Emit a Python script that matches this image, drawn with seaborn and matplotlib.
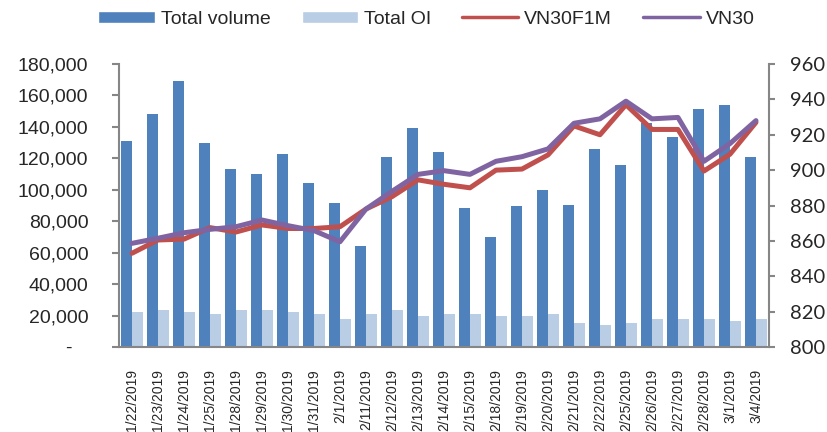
import matplotlib
matplotlib.use("Agg")
import matplotlib.pyplot as plt
from matplotlib.ticker import FuncFormatter, MultipleLocator, FixedLocator
from matplotlib.patches import Patch
from matplotlib.lines import Line2D
import numpy as np
import pandas as pd
import seaborn as sns

dates = ["1/22/2019", "1/23/2019", "1/24/2019", "1/25/2019", "1/28/2019",
         "1/29/2019", "1/30/2019", "1/31/2019", "2/1/2019", "2/11/2019",
         "2/12/2019", "2/13/2019", "2/14/2019", "2/15/2019", "2/18/2019",
         "2/19/2019", "2/20/2019", "2/21/2019", "2/22/2019", "2/25/2019",
         "2/26/2019", "2/27/2019", "2/28/2019", "3/1/2019", "3/4/2019"]

total_volume = [131000, 148000, 169000, 130000, 113000, 110000, 123000, 104500,
                91700, 64200, 120600, 139000, 124000, 88300, 70100, 89600,
                99900, 90600, 126100, 115800, 142400, 133300, 151500, 154000,
                120600]

total_oi = [22000, 23500, 22000, 21000, 23500, 23500, 22000, 21000, 17600,
            21000, 23500, 19900, 21000, 21000, 20000, 20000, 21000, 15000,
            14000, 15000, 17600, 17600, 17600, 16500, 17600]

vn30f1m = [853, 860.5, 861, 867.5, 865, 869, 867, 867, 868, 878, 885, 894.5,
           892, 890, 900, 900.6, 908.6, 925, 920, 937, 923, 923, 899.5, 909, 927]

vn30 = [858.6, 861.5, 864.6, 866.5, 868, 871.8, 868.6, 865.8, 859.5, 878, 888,
        897.6, 899.7, 897.6, 905, 907.6, 912, 926.5, 929, 939, 929, 929.8, 905,
        915, 928]

DARK = "#4F81BD"
LIGHT = "#B9CDE5"
RED = "#C0504D"
PURPLE = "#8064A2"
GRAY = "#868686"

sns.set_style("white")
plt.rcParams["font.family"] = ["Liberation Sans", "DejaVu Sans"]

bars = pd.DataFrame({
    "date": dates * 2,
    "value": total_volume + total_oi,
    "series": ["Total volume"] * len(dates) + ["Total OI"] * len(dates),
})

fig = plt.figure(figsize=(8.28, 4.32), dpi=100)
ax = fig.add_axes([0.1437, 0.1968, 0.785, 0.655])

sns.barplot(data=bars, x="date", y="value", hue="series",
            palette=[DARK, LIGHT], saturation=1, width=0.84, linewidth=0,
            ax=ax)
ax.get_legend().remove()
ax.set_xlim(-0.5, len(dates) - 0.5)
ax.set_ylim(0, 180000)
ax.yaxis.set_major_locator(MultipleLocator(20000))
ax.yaxis.set_major_formatter(FuncFormatter(
    lambda v, p: "-   " if v == 0 else f"{int(v):,}"))
ax.set_xlabel("")
ax.set_ylabel("")

ax2 = ax.twinx()
x_pos = np.arange(len(dates))
sns.lineplot(x=x_pos, y=vn30f1m, color=RED, linewidth=3.6, ax=ax2)
sns.lineplot(x=x_pos, y=vn30, color=PURPLE, linewidth=3.6, ax=ax2)
ax2.set_ylim(800, 960)
ax2.yaxis.set_major_locator(MultipleLocator(20))
ax2.set_xlim(-0.5, len(dates) - 0.5)

# x ticks sit between categories, Excel style
ax.set_xticks(np.arange(len(dates)))
ax.set_xticklabels(dates, rotation=90, fontsize=10)
ax.tick_params(axis="x", which="major", length=0, pad=16)
ax.xaxis.set_minor_locator(FixedLocator(np.arange(len(dates) + 1) - 0.5))
ax.tick_params(axis="x", which="minor", length=6, width=1.5, color=GRAY,
               direction="out")
ax.tick_params(axis="y", length=5, width=1.5, color=GRAY, labelsize=14,
               direction="out", pad=17)
ax2.tick_params(axis="y", length=4, width=1.5, color=GRAY, labelsize=14,
                direction="out", pad=11)
ax2.set_yticks(np.arange(800, 961, 20))
ax2.set_yticklabels([str(v) for v in range(800, 961, 20)],
                    family=["Lato", "DejaVu Sans"], fontsize=14.5)

for a in (ax, ax2):
    a.spines["top"].set_visible(False)
    for s in ("left", "right", "bottom"):
        a.spines[s].set_color(GRAY)
        a.spines[s].set_linewidth(1.5)
ax.spines["right"].set_visible(False)
ax2.spines["left"].set_visible(False)
ax2.spines["bottom"].set_visible(False)

handles = [
    Patch(facecolor=DARK, label="Total volume"),
    Patch(facecolor=LIGHT, label="Total OI"),
    Line2D([], [], color=RED, linewidth=2.5, label="VN30F1M"),
    Line2D([], [], color=PURPLE, linewidth=2.5, label="VN30"),
]
fig.legend(handles=handles, loc="center", bbox_to_anchor=(0.515, 0.955),
           ncol=4, frameon=False, fontsize=14, handlelength=2.9,
           handleheight=0.6, handletextpad=0.3, columnspacing=1.6)

plt.savefig("out.png", dpi=100)
